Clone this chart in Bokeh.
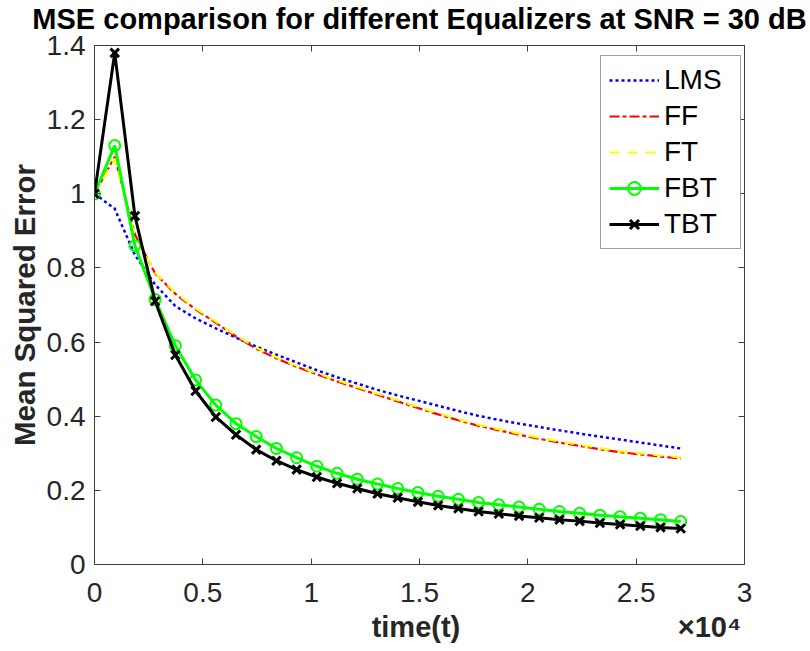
from bokeh.plotting import figure
from bokeh.models import LinearAxis, FixedTicker, Range1d
from bokeh.embed import file_html
from bokeh.resources import INLINE

# ---------------- data ----------------
t = [0, 933, 1866, 2799, 3732, 4665, 5598, 6531, 7464, 8397, 9330, 10263,
     11196, 12129, 13062, 13995, 14928, 15861, 16794, 17727, 18660, 19593,
     20526, 21459, 22392, 23325, 24258, 25191, 26124, 27057]

lms = [1.0, 0.96, 0.835, 0.755, 0.697, 0.664, 0.637, 0.612, 0.588, 0.566,
       0.545, 0.524, 0.505, 0.488, 0.471, 0.456, 0.442, 0.428, 0.414, 0.401,
       0.390, 0.380, 0.371, 0.362, 0.353, 0.345, 0.337, 0.329, 0.321, 0.313]

ff = [1.0, 1.10, 0.89, 0.785, 0.73, 0.688, 0.652, 0.615, 0.582, 0.556,
      0.533, 0.513, 0.494, 0.476, 0.458, 0.440, 0.422, 0.405, 0.389, 0.374,
      0.362, 0.350, 0.339, 0.329, 0.320, 0.311, 0.303, 0.297, 0.291, 0.286]

ft = [1.0, 1.095, 0.885, 0.787, 0.733, 0.691, 0.655, 0.618, 0.585, 0.559,
      0.536, 0.516, 0.497, 0.479, 0.461, 0.443, 0.425, 0.408, 0.392, 0.377,
      0.365, 0.353, 0.342, 0.332, 0.323, 0.314, 0.306, 0.300, 0.294, 0.289]

fbt = [1.0, 1.13, 0.86, 0.715, 0.59, 0.498, 0.43, 0.38, 0.345, 0.313,
       0.288, 0.265, 0.246, 0.230, 0.217, 0.205, 0.194, 0.184, 0.176, 0.167,
       0.161, 0.155, 0.149, 0.143, 0.138, 0.133, 0.129, 0.125, 0.121, 0.116]

tbt = [1.0, 1.38, 0.94, 0.71, 0.565, 0.468, 0.398, 0.35, 0.31, 0.28,
       0.256, 0.236, 0.219, 0.205, 0.191, 0.180, 0.169, 0.159, 0.151, 0.143,
       0.137, 0.131, 0.126, 0.121, 0.117, 0.112, 0.108, 0.104, 0.100, 0.097]

x_ticks = [0, 5000, 10000, 15000, 20000, 25000, 30000]
x_tick_labels = ["0", "0.5", "1", "1.5", "2", "2.5", "3"]
y_ticks = [0, 0.2, 0.4, 0.6, 0.8, 1.0, 1.2, 1.4]
y_tick_labels = ["0", "0.2", "0.4", "0.6", "0.8", "1", "1.2", "1.4"]

title_text = "MSE comparison for different Equalizers at SNR = 30 dB"
x_label = "time(t)"
y_label = "Mean Squared Error"
x_exponent = "\u00d710\u2074"

FONT = "Liberation Sans"
AXC = "#404040"
TXC = "#262626"

p = figure(width=810, height=651, output_backend="svg", toolbar_location=None,
           x_range=Range1d(0, 30000), y_range=Range1d(0, 1.4),
           min_border_left=94, min_border_right=66, min_border_top=42,
           min_border_bottom=87)
p.xgrid.visible = False
p.ygrid.visible = False
p.outline_line_color = AXC
p.outline_line_width = 1
p.background_fill_color = "white"
p.border_fill_color = "white"

p.title.text = title_text
p.title.align = "center"
p.title.text_font = FONT
p.title.text_font_style = "bold"
p.title.text_font_size = "29px"
p.title.text_color = "black"
p.title.standoff = 0


def style_axis(ax, ticks, labels, show):
    ax.ticker = FixedTicker(ticks=ticks)
    ax.major_label_overrides = {k: v for k, v in zip(ticks, labels)}
    ax.axis_line_color = AXC
    ax.axis_line_width = 1
    ax.major_tick_line_color = AXC
    ax.major_tick_line_width = 1
    ax.major_tick_in = 6
    ax.major_tick_out = 0
    ax.minor_tick_line_color = None
    ax.major_label_text_font = FONT
    ax.major_label_text_color = TXC
    if show:
        ax.major_label_text_font_size = "28px"
    else:
        ax.major_label_text_font_size = "0px"
        ax.major_label_text_color = None
        ax.major_label_standoff = 0


xa = p.xaxis[0]
style_axis(xa, x_ticks, x_tick_labels, True)
xa.major_label_standoff = 18
# the x label row also carries the axis multiplier at its right end, as in the
# reference; non-breaking spaces keep "time(t)" centred under the frame
pad = "\u00a0"
xa.axis_label = pad * 34 + x_label + pad * 27 + x_exponent
xa.axis_label_text_font = FONT
xa.axis_label_text_font_style = "bold"
xa.axis_label_text_font_size = "29px"
xa.axis_label_text_color = TXC
xa.axis_label_standoff = 6

ya = p.yaxis[0]
style_axis(ya, y_ticks, y_tick_labels, True)
ya.major_label_standoff = 9
ya.axis_label = y_label
ya.axis_label_text_font = FONT
ya.axis_label_text_font_style = "bold"
ya.axis_label_text_font_size = "29.5px"
ya.axis_label_text_color = TXC
ya.axis_label_standoff = 3

top = LinearAxis()
style_axis(top, x_ticks, x_tick_labels, False)
# an invisible spacer label lifts the title a little above the frame
top.axis_label = "\u00a0"
top.axis_label_text_font_size = "2px"
top.axis_label_standoff = 6
top.axis_label_text_color = None
p.add_layout(top, "above")
right = LinearAxis()
style_axis(right, y_ticks, y_tick_labels, False)
p.add_layout(right, "right")

# ---------------- series ----------------
p.line(t, lms, color="#0000FF", line_width=2.5, line_dash="3 3", legend_label="LMS")
p.line(t, ff, color="#FF0000", line_width=2.2, line_dash="10 3 4 3", legend_label="FF")
p.line(t, ft, color="#FFFF00", line_width=2.2, line_dash="10 8", legend_label="FT")
p.line(t, fbt, color="#00FF00", line_width=3, legend_label="FBT")
p.scatter(t, fbt, marker="circle", size=11, line_color="#00FF00", line_width=2,
          fill_color=None, legend_label="FBT")
p.line(t, tbt, color="black", line_width=3, legend_label="TBT")
p.scatter(t, tbt, marker="x", size=12, line_color="black", line_width=3,
          legend_label="TBT")

lg = p.legend[0]
lg.location = (506, 315)
lg.label_text_font = FONT
lg.label_text_font_size = "28px"
lg.label_text_color = "black"
lg.glyph_width = 50
lg.glyph_height = 32
lg.label_height = 32
lg.label_width = 68
lg.label_standoff = 5
lg.spacing = 4
lg.padding = 8
lg.margin = 0
lg.border_line_color = AXC
lg.border_line_width = 1
lg.background_fill_color = "white"
lg.background_fill_alpha = 1

open("out.html", "w").write(file_html(p, INLINE))
